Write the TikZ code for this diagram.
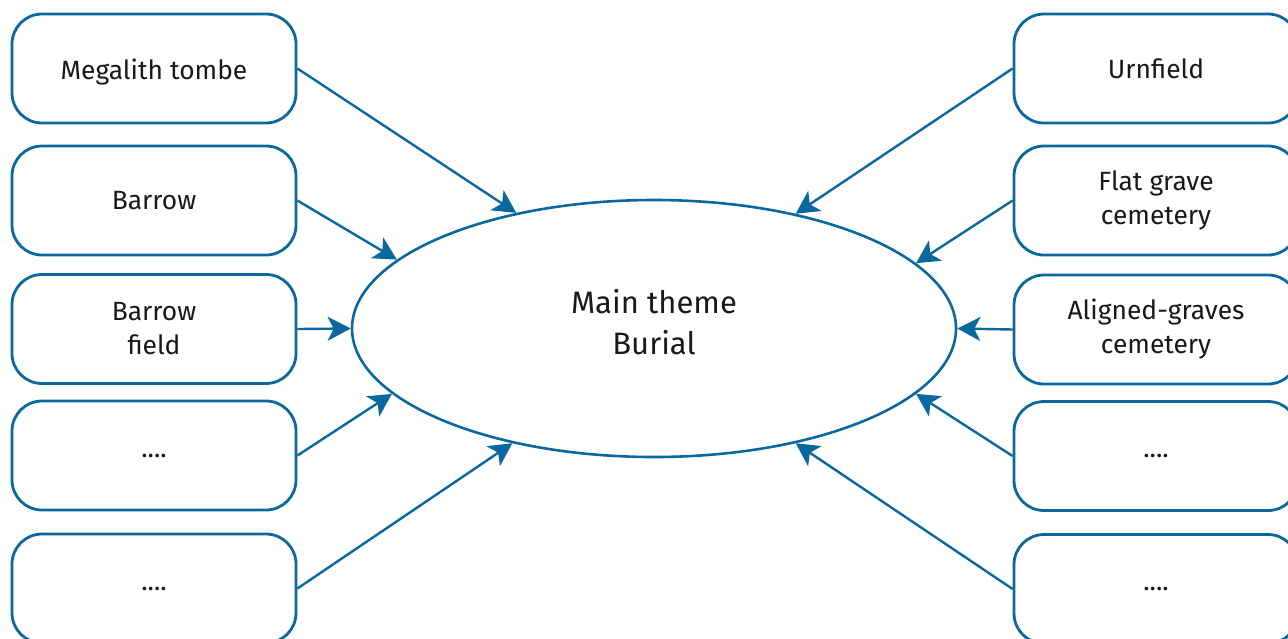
\documentclass[tikz,border=0pt]{standalone}
\usepackage{fontspec}
\setmainfont{Fira Sans}
\usetikzlibrary{shapes.geometric,arrows.meta}
\definecolor{lineblue}{RGB}{10,104,158}
\definecolor{txt}{RGB}{25,25,25}
\tikzset{
  box/.style={draw=lineblue, line width=1.4pt, rounded corners=15pt, fill=white,
    minimum width=142pt, minimum height=54.5pt, inner sep=0pt, align=center,
    text=txt, font=\fontsize{13.2}{17}\selectfont},
  hub/.style={draw=lineblue, line width=1.3pt, ellipse, minimum width=302pt,
    minimum height=128.5pt, inner sep=0pt},
  hubtext/.style={align=center, text=txt, inner sep=0pt,
    font=\fontsize{15.5}{20.5}\selectfont},
  conn/.style={draw=lineblue, line width=1.2pt,
    -{Stealth[length=11.5pt,width=12pt,inset=3pt]}}
}
\begin{document}
\begin{tikzpicture}[x=0.5pt,y=-0.5pt]
\useasboundingbox (0,0) rectangle (1288,638);
\node[hub] (main) at (654,328.5) {};
\node[hubtext, yshift=3.3pt] (maintext) at (main.center) {Main theme\\Burial};
\node[box] (l1) at (154,68.5) {\raisebox{-1.8pt}[\height][\depth]{Megalith tombe}};
\node[box] (l2) at (154,200.5) {Barrow};
\node[box] (l3) at (154,329) {Barrow\\field};
\node[box] (l4) at (154,455.5) {....};
\node[box] (l5) at (154,588.5) {....};
\node[box] (r1) at (1156,68.5) {Urnfield};
\node[box] (r2) at (1156,200.5) {Flat grave\\cemetery};
\node[box] (r3) at (1156,329.5) {Aligned-graves\\cemetery};
\node[box] (r4) at (1156,456) {....};
\node[box] (r5) at (1156,589) {....};
\draw[conn] (l1.east) -- (main.140);
\draw[conn] (l2.east) -- (main.165.5);
\draw[conn] (l3.east) -- (main.180);
\draw[conn] (l4.east) -- (main.194.5);
\draw[conn] (l5.east) -- (main.219.5);
\draw[conn] (r1.west) -- (main.39);
\draw[conn] (r2.west) -- (main.14);
\draw[conn] (r3.west) -- (main.0);
\draw[conn] (r4.west) -- (main.-14.5);
\draw[conn] (r5.west) -- (main.-39.5);
\end{tikzpicture}
\end{document}
